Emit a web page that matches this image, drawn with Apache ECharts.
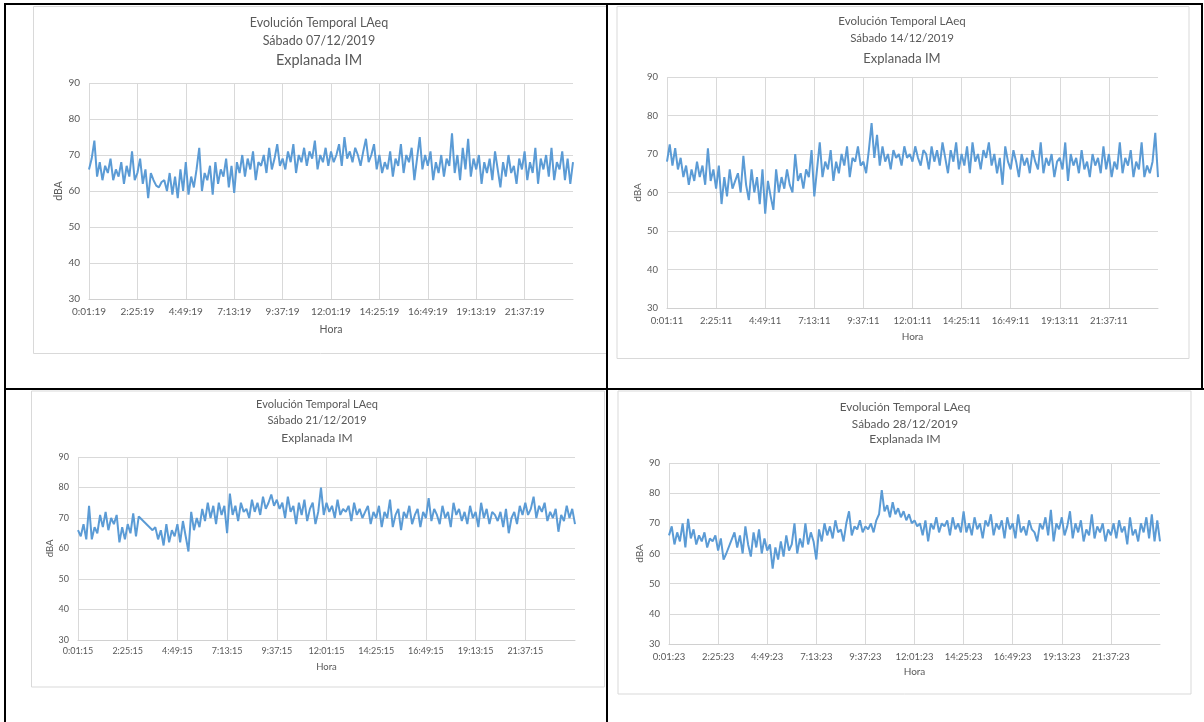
<!DOCTYPE html>
<html>
<head>
<meta charset="utf-8">
<script src="https://cdn.jsdelivr.net/npm/echarts@6/dist/echarts.min.js"></script>
<style>
html,body{margin:0;padding:0;background:#fff;}
#c{width:1204px;height:722px;}
</style>
</head>
<body>
<div id="c"></div>
<script>
// ---------- DATA ----------
const mainTitle = 'Evolución Temporal LAeq';
const subTitles = ['Sábado 07/12/2019', 'Sábado 14/12/2019', 'Sábado 21/12/2019', 'Sábado 28/12/2019'];
const placeTitle = 'Explanada IM';
const yAxisName = 'dBA';
const xAxisName = 'Hora';
const yMin = 30, yMax = 90, yStep = 10;

// category start times (seconds after midnight), 8-minute sampling, 181 points
const startSeconds = [79, 71, 75, 83];
const stepSeconds = 480;

const ticks1 = ['0:01:19','2:25:19','4:49:19','7:13:19','9:37:19','12:01:19','14:25:19','16:49:19','19:13:19','21:37:19'];
const ticks2 = ['0:01:11','2:25:11','4:49:11','7:13:11','9:37:11','12:01:11','14:25:11','16:49:11','19:13:11','21:37:11'];
const ticks3 = ['0:01:15','2:25:15','4:49:15','7:13:15','9:37:15','12:01:15','14:25:15','16:49:15','19:13:15','21:37:15'];
const ticks4 = ['0:01:23','2:25:23','4:49:23','7:13:23','9:37:23','12:01:23','14:25:23','16:49:23','19:13:23','21:37:23'];

const laeq1 = [
66,69,74,64,68,63,67,65,69,63,66,64,68,62,67,64,71,63,
65,69,62,66,58,65,63,61.5,61,62.5,63,60,65,59,64,58,66,60,
68,59,64,61,66,72,60,65,63,67,59,68,62,66,64,69,61,67,
59.5,68,65,70,64,69,66,71,63,68,67,70,65,72,66,69,73,67,
69,66,71,68,73,65,70,68,72,67,71,69,74,66,70,68,72,67,
71,68,70,73,67,75,69,71,68,72,70,67,71,74.5,68,70,73,66,
70,65,68,66,71,64,69,67,73,65,70,68,72,63,69,75,66,70,
67,71,63,68,65,70,64,69,67,76,65,70,63,72,66,74.5,64,69,
66,70,62,68,65,69,63,71,66,61,68,64,70,65,67,62,69,66,
71,63,68,65,72,62,69,66,70,64,72,63,68,66,71,63,69,62,68
];
const laeq2 = [
68,72.5,67,71.5,66,69,64,67,62,66,63,68,64,67,62,71.5,63,66,
61,67,57,64,59,66,61,63,65,60,69.5,62,58,66,60,64,57,66,
54.5,63,59,55.5,66,60,64,61,66,62,60,70,63,65,61,66,64,71,
59,66,73,64,68,66,71,63,68,65,70,67,72,64,69,68,72,67,
68,65,71,78,69,75,67,72,68,70,66,71,69,70,67,72,69,70,
68,72,69,67,71,70,66,72,68,71,67,73,69,65,71,68,73,66,
70,67,72,65,73,68,70,66,71,69,73,67,70,65,69,62,72,68,
66,71,68,64,70,67,69,65,71,68,66,73,65,69,67,70,64,68,
69,66,73,63,70,67,69,65,71,66,68,64,70,67,69,65,72,66,
70,64,68,66,73,65,69,67,71,64,68,66,73,64,67,65,68,75.5,64
];
const laeq3 = [
66,64,68,63,74,63,67,65,71,67,72,66,70,68,71,62,67,63,
68,65,71.5,64,70.5,null,null,null,null,66,67,63,66,61,68,62,66,64,
68,62,69,64,59,72,66,70,67,73,69,75,70,74,68,75,71,74,
65,78,71,74,69,75,72,73,70,76,72,75,71,77,73,75,77.7,74,
76,73,75,70,77,72,74,68,75,71,76,69,73,75,68,72,80,71,
75,72,74,70,76,71,73,72,74,69,75,71,73,70,72,74,68,72,
70,74,67,72,70,76,67,71,73,66,72,70,74,68,71,73,67,72,
70,76.5,69,73,71,68,74,70,72,67,75,71,73,69,72,68,74,70,
72,67,75,70,73,68,72,71,69,72,67,73,65,70,72,68,74,71,
75,71,73,77,70,74,72,75,69,72,70,73,65.5,71,69,74,70,73,68
];
const laeq4 = [
66,69,63,67,64,70,62,71.5,65,68,63,66,64,67,62,65,64,66,
61,65,58,60,null,null,67,62,66,60,69,63,59,67,62,68,60,65,
61,63,55,62,58,64,59,66,61,63,70,60,65,62,70,63,67,64,
58,68,64,70,66,69,65,71,67,68,64,70,74,66,69,68,71,67,
69,68,70,67,71,73,81,74,76,72,77,73,75,72,74,71,73,70,
71,69,70,66,71,64,70,68,72,67,70,69,71,66,72,68,70,67,
74,67,70,66,72,68,70,65,71,69,73,66,70,68,71,65,72,68,
70,65,73,67,69,66,71,68,67,64,70,68,72,66,74.5,64,70,68,
72,66,69,74,65,70,67,71,64,68,66,73,65,69,67,70,64,68,
66,70,65,71,67,69,63,72,66,68,64,70,67,72,65,73,64,71,64
];

// ---------- BUILD ----------
function pad(n){ return (n < 10 ? '0' : '') + n; }
function makeCats(start, n){
  const out = [];
  for (let i = 0; i < n; i++){
    const s = start + i * stepSeconds;
    out.push(Math.floor(s / 3600) + ':' + pad(Math.floor((s % 3600) / 60)) + ':' + pad(s % 60));
  }
  return out;
}

const FONT = 'Lato';
const TXT = '#595959';
const LINE = '#5B9BD5';
const GRIDC = '#D9D9D9';

const panels = [
  {data: laeq1, ticks: ticks1, sub: subTitles[0],
   grid: {left: 89, top: 83, width: 484, height: 216},
   tcx: 319, ty: [24, 42, 62], tfs: [12.5, 12.5, 14.5],
   lfs: 10, lm: 8, hGap: 25, dGap: 25},
  {data: laeq2, ticks: ticks2, sub: subTitles[1],
   grid: {left: 667, top: 77, width: 491, height: 231},
   tcx: 902, ty: [22, 39, 60], tfs: [11.5, 11.5, 13],
   lfs: 9.5, lm: 8, hGap: 24, dGap: 23},
  {data: laeq3, ticks: ticks3, sub: subTitles[2],
   grid: {left: 78, top: 457, width: 497, height: 183},
   tcx: 317, ty: [406, 422, 439], tfs: [11, 11, 12],
   lfs: 9, lm: 7, hGap: 22, dGap: 21},
  {data: laeq4, ticks: ticks4, sub: subTitles[3],
   grid: {left: 669, top: 463, width: 491, height: 181},
   tcx: 905, ty: [408, 425, 440], tfs: [11.8, 11.8, 12],
   lfs: 9.5, lm: 8, hGap: 23, dGap: 24}
];

const option = {
  animation: false,
  backgroundColor: '#fff',
  title: [], grid: [], xAxis: [], yAxis: [], series: [],
  graphic: []
};

// frames (light gray chart borders)
const frames = [
  {x: 33, y: 6, w: 574, h: 347},
  {x: 616.5, y: 6, w: 572, h: 352},
  {x: 31, y: 390.5, w: 573, h: 296},
  {x: 617.5, y: 390.5, w: 573, h: 303}
];
frames.forEach(f => option.graphic.push({
  type: 'rect', shape: {x: f.x + 0.5, y: f.y + 0.5, width: f.w, height: f.h},
  style: {fill: 'none', stroke: '#D9D9D9', lineWidth: 1}, z: 0
}));
// table borders
const borders = [
  [5, 4, 1203, 4], [5, 3, 5, 722], [607, 3, 607, 722],
  [5, 389, 1204, 389], [1202, 3, 1202, 389]
];
borders.forEach(b => option.graphic.push({
  type: 'line', shape: {x1: b[0], y1: b[1], x2: b[2], y2: b[3]},
  style: {stroke: '#000', lineWidth: 2}, z: 100
}));

panels.forEach((p, i) => {
  const cats = makeCats(startSeconds[i], p.data.length);
  const lines = [mainTitle, p.sub, placeTitle];
  lines.forEach((t, k) => option.title.push({
    text: t, left: p.tcx, top: p.ty[k] - p.tfs[k] * 0.6, textAlign: 'center', padding: 0,
    textStyle: {fontFamily: FONT, fontSize: p.tfs[k], fontWeight: 'normal', color: TXT}
  }));
  option.grid.push(Object.assign({containLabel: false}, p.grid));
  const showTick = (idx, val) => p.ticks.indexOf(val) >= 0;
  option.xAxis.push({
    type: 'category', gridIndex: i, data: cats, boundaryGap: false,
    name: xAxisName, nameLocation: 'middle', nameGap: p.hGap,
    nameTextStyle: {fontFamily: FONT, fontSize: p.lfs + 0.5, color: TXT},
    axisLine: {show: true, lineStyle: {color: '#D0D0D0', width: 1}},
    axisTick: {show: false},
    axisLabel: {interval: showTick, fontFamily: FONT, fontSize: p.lfs, color: TXT, margin: p.lm, hideOverlap: false},
    splitLine: {show: true, interval: showTick, lineStyle: {color: GRIDC, width: 1}}
  });
  option.yAxis.push({
    type: 'value', gridIndex: i, min: yMin, max: yMax, interval: yStep,
    name: yAxisName, nameLocation: 'middle', nameRotate: 90, nameGap: p.dGap,
    nameTextStyle: {fontFamily: FONT, fontSize: p.lfs + 0.5, color: TXT},
    axisLine: {show: false}, axisTick: {show: false},
    axisLabel: {fontFamily: FONT, fontSize: p.lfs, color: TXT, margin: 9},
    splitLine: {show: true, lineStyle: {color: GRIDC, width: 1}}
  });
  option.series.push({
    type: 'line', xAxisIndex: i, yAxisIndex: i, data: p.data,
    showSymbol: false, connectNulls: true,
    lineStyle: {color: LINE, width: 2}, itemStyle: {color: LINE}
  });
});

const chart = echarts.init(document.getElementById('c'), null, {renderer: 'canvas'});
chart.setOption(option);
</script>
</body>
</html>
